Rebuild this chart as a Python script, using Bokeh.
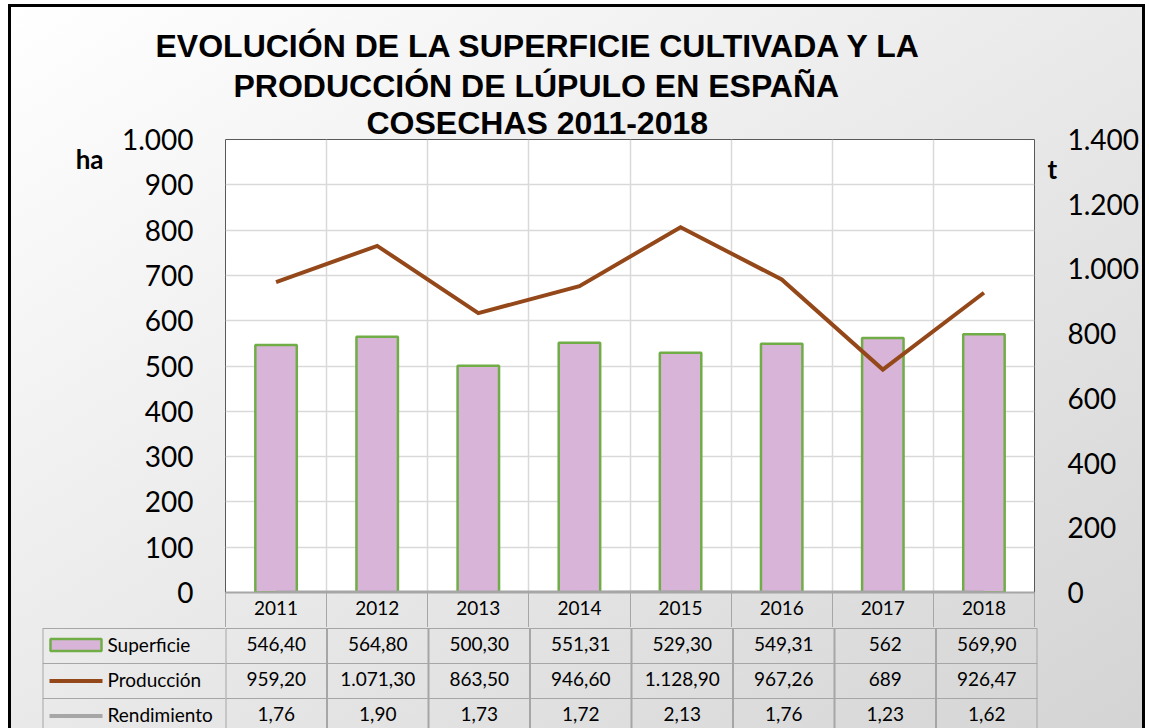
from bokeh.plotting import figure
from bokeh.layouts import column, row
from bokeh.models import (Range1d, LinearAxis, FixedTicker, Grid, Title,
                          CustomJSTickFormatter, ColumnDataSource)
from bokeh.core.properties import value
from bokeh.embed import file_html
from bokeh.resources import INLINE

# ---------------- data ----------------
years = ["2011", "2012", "2013", "2014", "2015", "2016", "2017", "2018"]
superficie = [546.40, 564.80, 500.30, 551.31, 529.30, 549.31, 562, 569.90]
produccion = [959.20, 1071.30, 863.50, 946.60, 1128.90, 967.26, 689, 926.47]
rendimiento = [1.76, 1.90, 1.73, 1.72, 2.13, 1.76, 1.23, 1.62]
series_names = ["Superficie", "Producción", "Rendimiento"]
title_lines = ["EVOLUCIÓN DE LA SUPERFICIE CULTIVADA Y LA",
               "PRODUCCIÓN DE LÚPULO EN ESPAÑA",
               "COSECHAS 2011-2018"]
left_ticks = list(range(0, 1001, 100))
right_ticks = list(range(0, 1401, 200))
left_unit, right_unit = "ha", "t"

BAR_FILL = "#D8B4D8"
BAR_LINE = "#70AD47"
PROD_COL = "#94481A"
REND_COL = "#A6A6A6"
GRID_COL = "#D9D9D9"
TABLE_COL = "#A6A6A6"
FONT = "Lato"


def fmt_es(v):
    if float(v).is_integer():
        return f"{int(v):,}".replace(",", ".")
    s = f"{v:,.2f}"
    return s.replace(",", "X").replace(".", ",").replace("X", ".")


n = len(years)
centers = [i + 0.5 for i in range(n)]
bounds = list(range(n + 1))

thousands = CustomJSTickFormatter(
    code="return tick.toString().replace(/\\B(?=(\\d{3})+(?!\\d))/g, '.');")

# ---------------- chart figure ----------------
pA = figure(width=1131, height=620, x_range=Range1d(0, n), y_range=Range1d(0, 1000),
            x_axis_type=None, y_axis_type=None, output_backend="svg",
            toolbar_location=None, min_border_left=214, min_border_right=105,
            min_border_top=132, min_border_bottom=35,
            background_fill_color="white", border_fill_alpha=0,
            outline_line_color="#595959", outline_line_width=1)
pA.extra_y_ranges = {"t": Range1d(0, 1400)}


def bare(ax):
    ax.axis_line_color = None
    ax.major_tick_line_color = None
    ax.minor_tick_line_color = None
    ax.major_tick_in = 0
    ax.major_tick_out = 0
    ax.minor_tick_in = 0
    ax.minor_tick_out = 0
    ax.major_label_text_color = "#000000"
    ax.major_label_text_font = FONT


left_ax = LinearAxis(ticker=FixedTicker(ticks=left_ticks), formatter=thousands)
right_ax = LinearAxis(ticker=FixedTicker(ticks=right_ticks), formatter=thousands,
                      y_range_name="t")
for ax in (left_ax, right_ax):
    bare(ax)
    ax.major_label_text_font_size = "28px"
left_ax.major_label_standoff = 32
right_ax.major_label_standoff = 7

# unit labels ("ha", "t") as a single tick label on an extra axis, near the top
ha_ax = LinearAxis(ticker=FixedTicker(ticks=[958]),
                   formatter=CustomJSTickFormatter(args=dict(u=left_unit), code="return u;"))
t_ax = LinearAxis(ticker=FixedTicker(ticks=[1310]), y_range_name="t",
                  formatter=CustomJSTickFormatter(args=dict(u=right_unit), code="return u;"))
for ax in (ha_ax, t_ax):
    bare(ax)
    ax.major_label_text_font_style = "bold"
    ax.major_label_text_font_size = "26px"
ha_ax.major_label_standoff = 15
t_ax.major_label_standoff = 13

pA.add_layout(left_ax, "left")
pA.add_layout(ha_ax, "left")
pA.add_layout(t_ax, "right")
pA.add_layout(right_ax, "right")

bottom_ax = LinearAxis(ticker=FixedTicker(ticks=centers, minor_ticks=bounds),
                       formatter=CustomJSTickFormatter(args=dict(years=years),
                                                       code="return years[Math.floor(tick)];"))
bottom_ax.axis_line_color = REND_COL
bottom_ax.axis_line_width = 2
bottom_ax.major_tick_in = 0
bottom_ax.major_tick_out = 0
bottom_ax.minor_tick_in = 0
bottom_ax.minor_tick_out = 35
bottom_ax.minor_tick_line_color = TABLE_COL
bottom_ax.minor_tick_line_width = 1
bottom_ax.major_label_text_font = FONT
bottom_ax.major_label_text_font_size = "19px"
bottom_ax.major_label_text_color = "#000000"
bottom_ax.major_label_standoff = -27
pA.add_layout(bottom_ax, "below")

# three-line title, nearest line first; left-aligned with offsets to centre at x~535
for txt, so, off in zip(reversed(title_lines), [-3, 2, 2], [141, 8, -70]):
    pA.add_layout(Title(text=txt, align="left", offset=off, standoff=so,
                        text_font="Liberation Sans", text_font_style="bold",
                        text_font_size="32px", text_color="#000000"), "above")

pA.add_layout(Grid(dimension=1, ticker=FixedTicker(ticks=left_ticks),
                   grid_line_color=GRID_COL, grid_line_width=1.5))
pA.add_layout(Grid(dimension=0, ticker=FixedTicker(ticks=bounds),
                   grid_line_color=GRID_COL, grid_line_width=1.5))

srcA = ColumnDataSource(dict(x=centers, sup=superficie, prod=produccion, rend=rendimiento))
pA.vbar(x="x", top="sup", width=0.41, bottom=0, source=srcA,
        fill_color=BAR_FILL, line_color=BAR_LINE, line_width=2.5)
pA.line(x="x", y="prod", source=srcA, y_range_name="t",
        line_color=PROD_COL, line_width=4, line_join="miter")
pA.line(x="x", y="rend", source=srcA, y_range_name="t",
        line_color=REND_COL, line_width=3)

# ---------------- data table: legend column (pC) + values (pB) ----------------
row_h = 35
row_tops = [0, row_h, 2 * row_h]
row_mid = [t + row_h / 2 for t in row_tops]
TH = 101


def table_fig(width, xr, ml, mr):
    f = figure(width=width, height=TH, x_range=xr, y_range=Range1d(TH - 1, -1),
               x_axis_type=None, y_axis_type=None, output_backend="svg",
               toolbar_location=None, min_border_left=ml, min_border_right=mr,
               min_border_top=0, min_border_bottom=0, background_fill_alpha=0,
               border_fill_alpha=0, outline_line_color=None)
    f.xgrid.visible = False
    f.ygrid.visible = False
    return f


LEG_W = 183
pC = table_fig(214, Range1d(0, LEG_W), 31, 0)
pB = table_fig(917, Range1d(0, n), 0, 105)

pC.segment(x0=[0] * 3, x1=[LEG_W] * 3, y0=row_tops, y1=row_tops,
           line_color=TABLE_COL, line_width=1)
pC.segment(x0=[0], x1=[0], y0=[0], y1=[3 * row_h], line_color=TABLE_COL, line_width=2)
pC.rect(x=[33.5], y=[row_mid[0] - 1], width=51, height=12, width_units="screen",
        height_units="screen", fill_color=BAR_FILL, line_color=BAR_LINE, line_width=2.5)
pC.segment(x0=[7], x1=[60], y0=[row_mid[1]], y1=[row_mid[1]],
           line_color=PROD_COL, line_width=4)
pC.segment(x0=[7], x1=[60], y0=[row_mid[2]], y1=[row_mid[2]],
           line_color=REND_COL, line_width=4)
pC.text(x=[65] * 3, y=[m - 2 for m in row_mid], text=series_names, text_align="left",
        text_baseline="middle", text_font=value(FONT), text_font_size="19px",
        text_color="#000000")

pB.segment(x0=[0] * 3, x1=[n] * 3, y0=row_tops, y1=row_tops,
           line_color=TABLE_COL, line_width=1)
pB.segment(x0=bounds, x1=bounds, y0=[0] * len(bounds), y1=[3 * row_h] * len(bounds),
           line_color=TABLE_COL, line_width=2)

cells_x, cells_y, cells_t = [], [], []
for vals, ym in zip([superficie, produccion, rendimiento], row_mid):
    for cx, v in zip(centers, vals):
        cells_x.append(cx)
        cells_y.append(ym - 2)
        cells_t.append(fmt_es(v))
pB.text(x=cells_x, y=cells_y, text=cells_t, text_align="center",
        text_baseline="middle", text_font=value(FONT), text_font_size="19px",
        text_color="#000000")

layout = column(pA, row(pC, pB, spacing=0), spacing=0, styles={
    "margin-left": "8px", "margin-top": "4px",
    "border-top": "3px solid #000", "border-left": "3px solid #000",
    "border-right": "3px solid #000",
    "background": "linear-gradient(to bottom right, #ffffff 0%, #d4d4d4 100%)",
})

open("out.html", "w").write(file_html(layout, INLINE))
